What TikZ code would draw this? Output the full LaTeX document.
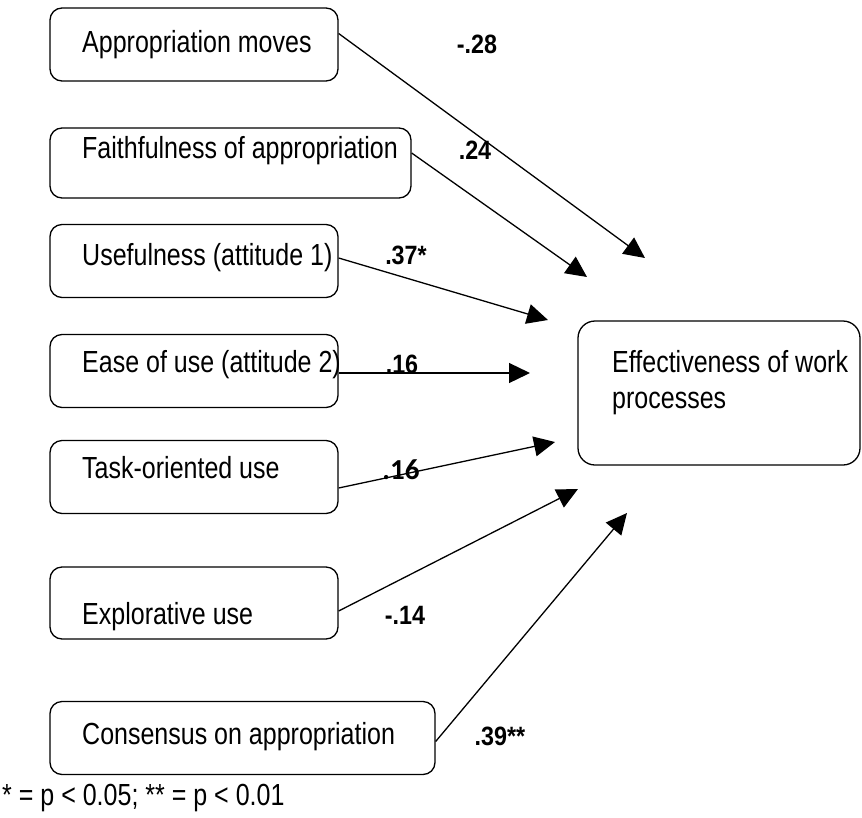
\documentclass[tikz,border=0pt]{standalone}
\usepackage{fontspec}
\setmainfont{Liberation Sans}[FakeStretch=0.82]
\newfontfamily\lblfont{Liberation Sans}[FakeStretch=0.88]
\newfontfamily\calfont{Carlito}
\usetikzlibrary{arrows.meta}
\begin{document}
\begin{tikzpicture}[x=1pt,y=-1pt,
  box/.style={draw, line width=1.3pt, rounded corners=12pt, inner sep=0pt, minimum width=288pt, minimum height=73pt},
  txt/.style={anchor=base west, inner sep=0pt, font=\fontsize{30.5}{36}\selectfont},
  lbl/.style={anchor=base, inner sep=0pt, font=\lblfont\bfseries\fontsize{26.5}{30}\selectfont},
  arr/.style={line width=1.3pt, -{Triangle[length=21pt,width=20pt]}}]
\useasboundingbox (0,0) rectangle (862,817);
% boxes
\node[box] (b1) at (194,44.5) {};
\node[box, minimum width=361pt, minimum height=70pt] (b2) at (230.5,163) {};
\node[box] (b3) at (194,261) {};
\node[box] (b4) at (194,371) {};
\node[box] (b5) at (194,477) {};
\node[box, minimum height=72pt] (b6) at (194,603) {};
\node[box, minimum width=385pt] (b7) at (242.5,738) {};
\node[box, minimum width=282pt, minimum height=144pt, rounded corners=17pt] (tg) at (719,393) {};
% texts
\node[txt] (t1) at (82,52) {Appropriation moves};
\node[txt] (t2) at (82,158) {Faithfulness of appropriation};
\node[txt] (t3) at (82,265) {Usefulness (attitude 1)};
\node[txt] (t4) at (82,372) {Ease of use (attitude 2)};
\node[txt] (t5) at (82,478) {Task-oriented use};
\node[txt] (t6) at (82,624) {Explorative use};
\node[txt] (t7) at (82,744) {Consensus on appropriation};
\node[txt] (tt1) at (612,372) {Effectiveness of work};
\node[txt] (tt2) at (612,408) {processes};
\node[txt] (fn) at (2,805) {* = p < 0.05; ** = p < 0.01};
% arrow tips
\coordinate (p1) at (645,258);
\coordinate (p2) at (587,277);
\coordinate (p3) at (548,320);
\coordinate (p4) at (530,373);
\coordinate (p5) at (555,442);
\coordinate (p6) at (578,489);
\coordinate (p7) at (627,513);
% connectors
\draw[arr] ([yshift=11pt]b1.east) -- (p1);
\draw[arr] ([yshift=10pt]b2.east) -- (p2);
\draw[arr] ([yshift=3pt]b3.east) -- (p3);
\draw[arr] ([yshift=-2pt]b4.east) -- (p4);
\draw[arr] ([yshift=-11pt]b5.east) -- (p5);
\draw[arr] ([yshift=-8pt]b6.east) -- (p6);
\draw[arr] ([yshift=-3.5pt]b7.east) -- (p7);
% coefficient labels
\node[lbl] (l1) at (477,53) {-.28};
\node[lbl] (l2) at (475,159) {.24};
\node[lbl] (l3) at (406,264) {.37*};
\node[lbl] (l4) at (402,373) {.16};
\node[lbl, font=\calfont\bfseries\fontsize{29}{32}\selectfont] (l5) at (401,479) {.16};
\node[lbl] (l6) at (405,624) {-.14};
\node[lbl] (l7) at (500,745) {.39**};
\end{tikzpicture}
\end{document}
